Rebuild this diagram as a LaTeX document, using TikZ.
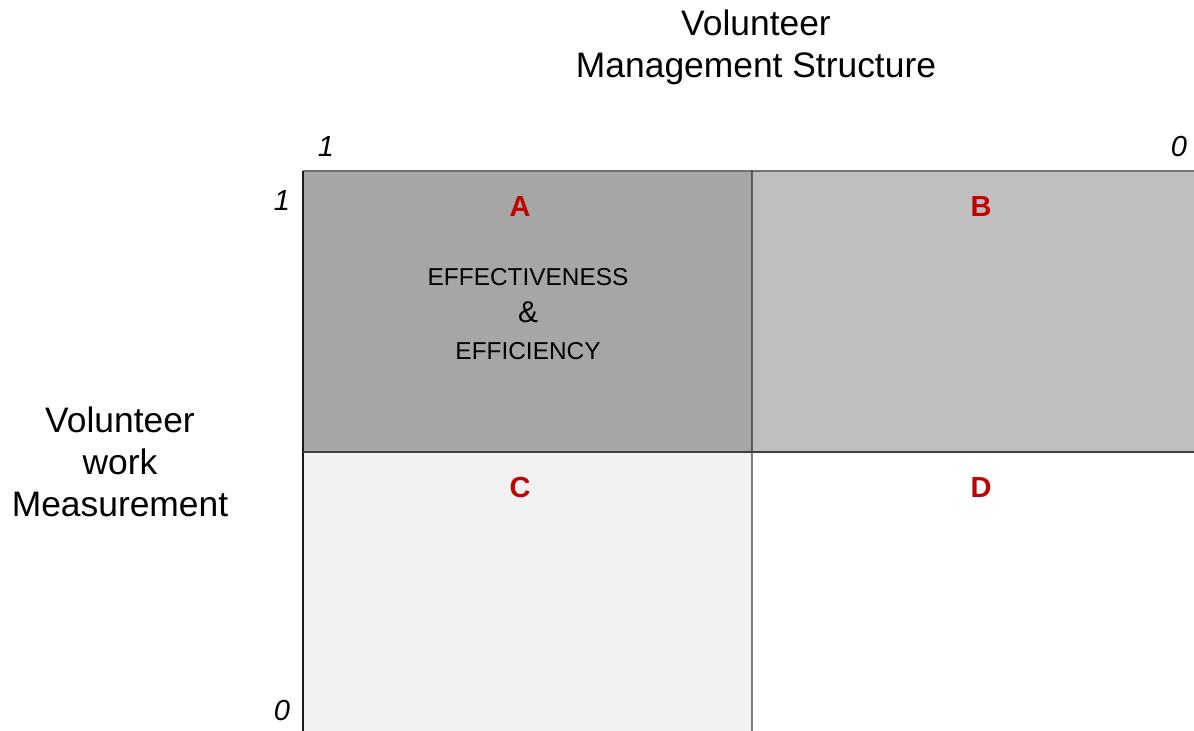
\documentclass[tikz,border=0pt]{standalone}
\usepackage{fontspec}
\setmainfont{Liberation Sans}
\usetikzlibrary{positioning}
\definecolor{cellA}{HTML}{A6A6A6}
\definecolor{cellB}{HTML}{BFBFBF}
\definecolor{cellC}{HTML}{F2F2F2}
\definecolor{letter}{HTML}{C00000}

\begin{document}
\begin{tikzpicture}[x=0.5pt, y=-0.5pt,
    axis/.style={font=\fontsize{17.7}{21}\selectfont, align=center, anchor=base},
    tick/.style={font=\fontsize{14.5}{16}\selectfont\itshape, anchor=base},
    cell/.style={font=\fontsize{14.5}{16}\selectfont\bfseries, text=letter, anchor=base},
    inner/.style={font=\fontsize{12.2}{18.5}\selectfont, align=center, anchor=base}]
    \useasboundingbox (0,0) rectangle (1194,731);
    % quadrant fills
    \fill[cellA] (303,171) rectangle (752,452);
    \fill[cellB] (752,171) rectangle (1194,452);
    \fill[cellC] (303,452) rectangle (752,731);
    % grid lines
    \draw[line width=1pt, black!55] (303,171) -- (1194,171);
    \draw[line width=1pt, black!90] (303,171) -- (303,731);
    \draw[line width=1.2pt, black, opacity=0.5] (752,171) -- (752,731);
    \draw[line width=1pt, black!75] (303,452) -- (1194,452);
    % axis titles (base = last line)
    \node (mgmt) [axis] at (756,78) {Volunteer\\Management Structure};
    \node (meas) [axis] at (120,517) {Volunteer\\work\\Measurement};
    % axis ends
    \node (xone)  [tick] at (326,157) {1};
    \node (xzero) [tick] at (1179,157) {0};
    \node (yone)  [tick] at (282,211) {1};
    \node (yzero) [tick] at (282,720) {0};
    % quadrant letters
    \node (qa) [cell] at (520,217) {A};
    \node (qb) [cell] at (981,217) {B};
    \node (qc) [cell] at (520,498) {C};
    \node (qd) [cell] at (981,498) {D};
    \node (eff) [inner] at (528,360) {EFFECTIVENESS\\{\fontsize{15}{18.5}\selectfont\&}\\EFFICIENCY};
\end{tikzpicture}
\end{document}
